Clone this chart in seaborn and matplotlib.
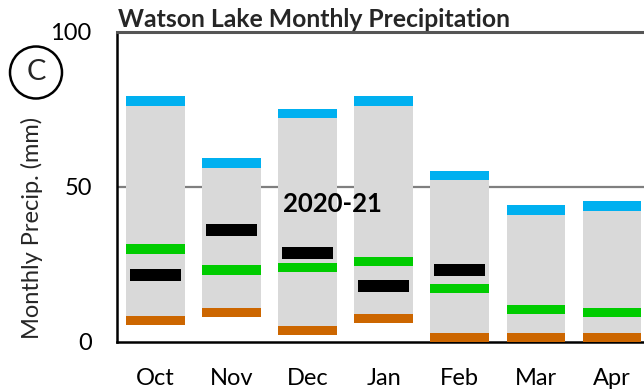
import numpy as np
import pandas as pd
import matplotlib
matplotlib.use("Agg")
import matplotlib.pyplot as plt
from matplotlib.patches import Ellipse
import seaborn as sns

# ---- data ----
months = ["Oct", "Nov", "Dec", "Jan", "Feb", "Mar", "Apr"]
max_precip = [77.6, 57.6, 73.5, 77.6, 53.7, 42.5, 43.8]
median_precip = [30.0, 23.2, 24.0, 26.0, 17.2, 10.5, 9.6]
min_precip = [6.9, 9.6, 3.8, 7.5, 1.3, 1.3, 1.3]
current_precip = [21.7, 36.0, 28.6, 18.0, 23.2, np.nan, np.nan]
y_ticks = [0, 50, 100]
title = "Watson Lake Monthly Precipitation"
ylabel = "Monthly Precip. (mm)"
season_label = "2020-21"
panel_label = "C"

sns.set_style("white")
plt.rcParams["font.family"] = ["Lato", "DejaVu Sans"]

W, H = 644, 390
fig = plt.figure(figsize=(W / 100, H / 100), dpi=100)
left_px, top_px, bottom_px = 116.7, 31.5, 342.0
ax = fig.add_axes([left_px / W, (H - bottom_px) / H, 1 - left_px / W, (bottom_px - top_px) / H])

df = pd.DataFrame({"month": months, "low": min_precip, "high": max_precip})
df["span"] = df["high"] - df["low"]

ax.axhline(50, color="#7f7f7f", lw=1.6, zorder=0)

sns.barplot(data=df, x="month", y="span", order=months, bottom=df["low"].to_numpy(),
            color="#D9D9D9", saturation=1, width=0.77, linewidth=0,
            errorbar=None, ax=ax, zorder=2)

xpos = np.arange(len(months))


def band(values, thick, width, color):
    v = np.asarray(values, dtype=float)
    m = ~np.isnan(v)
    ax.bar(xpos[m], thick, bottom=v[m] - thick / 2, width=width, color=color,
           linewidth=0, zorder=3)


band(max_precip, 3.0, 0.77, "#00B0F0")
band(median_precip, 3.0, 0.77, "#00CC00")
band(min_precip, 3.0, 0.77, "#CC6600")
band(current_precip, 3.9, 0.67, "#000000")

ax.set_xlim(-0.506, 6.42)
ax.set_ylim(0, 100)
ax.set_yticks(y_ticks)
ax.set_xlabel("")
ax.set_ylabel(ylabel, fontsize=17)
ax.yaxis.set_label_coords(-0.140, 0.367)
ax.tick_params(axis="both", length=0, labelsize=17, colors="#000000")
ax.tick_params(axis="y", pad=18)
ax.tick_params(axis="x", pad=31)
for lab in ax.get_xticklabels():
    lab.set_verticalalignment("baseline")

ax.spines["right"].set_visible(False)
ax.spines["top"].set_color("#555555")
ax.spines["top"].set_linewidth(2.2)
for s in ("left", "bottom"):
    ax.spines[s].set_color("#000000")
    ax.spines[s].set_linewidth(1.8)

ax.text(0.003, 1 + 4.5 / (bottom_px - top_px), title, transform=ax.transAxes,
        fontsize=17.8, fontweight="bold", ha="left", va="baseline")

ax.text(1.68, 44.5, season_label, fontsize=18.5, fontweight="bold", color="#000000",
        ha="left", va="center", zorder=5)

# circled panel label
fig.add_artist(Ellipse((36 / W, 1 - 72.5 / H), 52 / W, 52 / H, transform=fig.transFigure,
                       fill=False, edgecolor="#000000", lw=1.8))
fig.text(36 / W, 1 - 72.5 / H, panel_label, fontsize=21,
         ha="center", va="center")

fig.savefig("out.png", dpi=100)
